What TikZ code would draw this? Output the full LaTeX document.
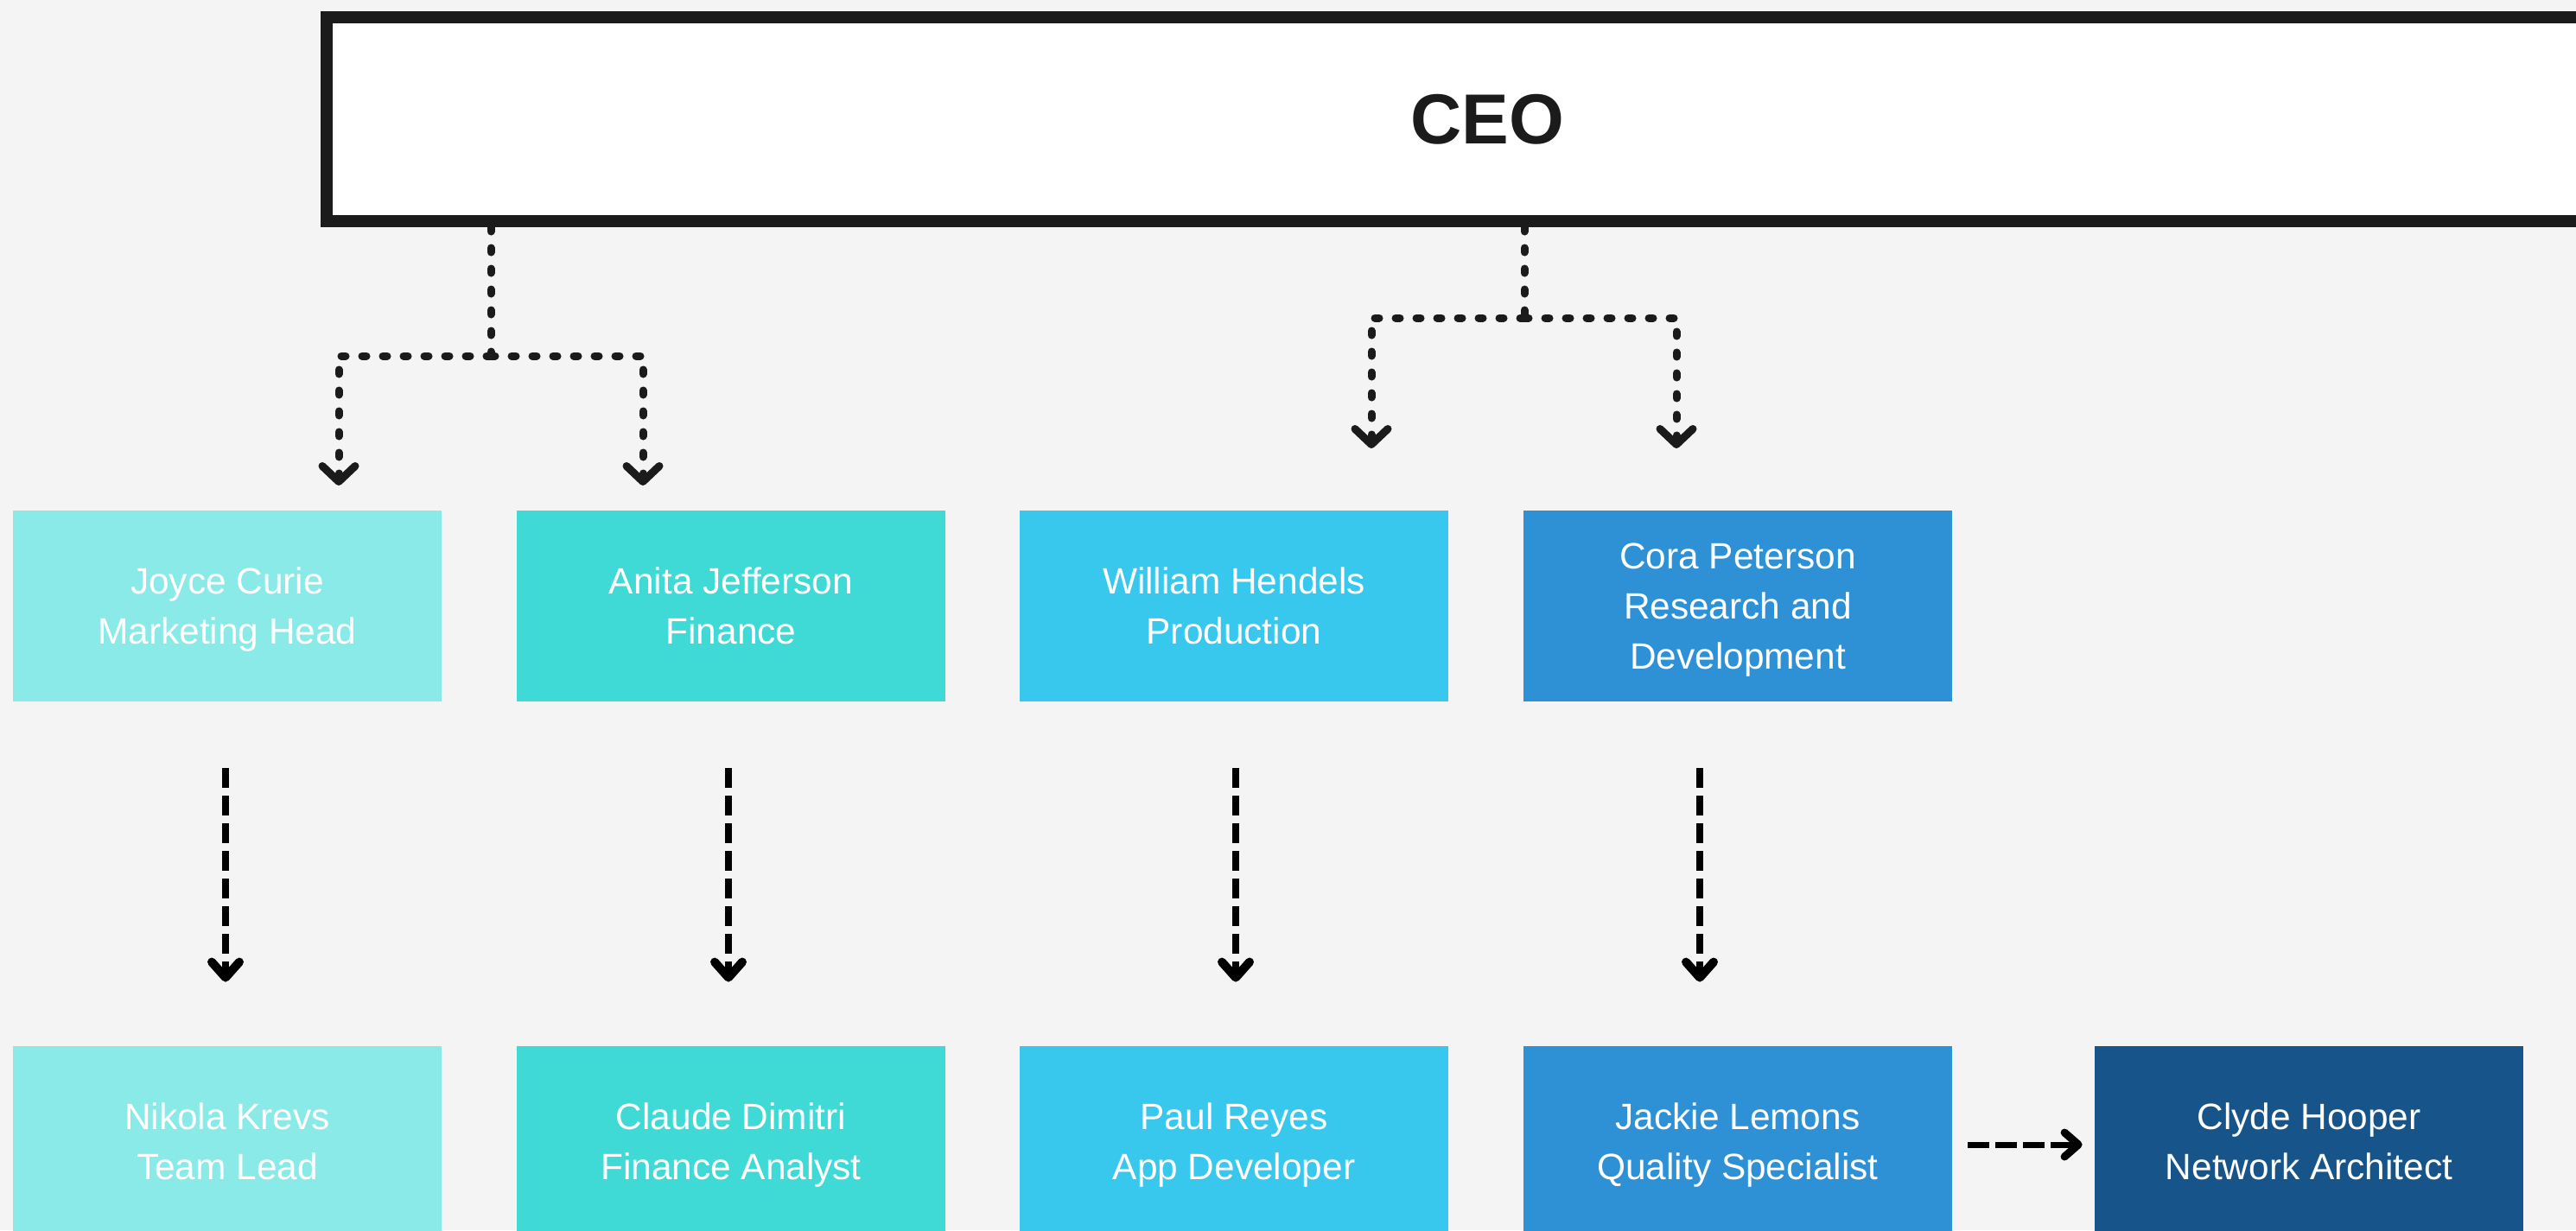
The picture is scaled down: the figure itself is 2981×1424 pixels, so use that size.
\documentclass[tikz,border=0pt]{standalone}
\usepackage{fontspec}
\setmainfont{Liberation Sans}
\usetikzlibrary{arrows.meta,calc}
\definecolor{bgc}{HTML}{F4F4F4}
\definecolor{dark}{HTML}{1B1B1B}
\definecolor{cA}{HTML}{89EAE8}
\definecolor{cB}{HTML}{3FDAD6}
\definecolor{cC}{HTML}{38C8EE}
\definecolor{cD}{HTML}{2E91D5}
\definecolor{cE}{HTML}{16548A}
\newcommand\ostrut{\rule[-7.25pt]{0pt}{29pt}}
\begin{document}
\begin{tikzpicture}[x=0.5pt,y=-0.5pt,
  ceobox/.style={draw=dark,line width=7pt,fill=white,minimum width=1343pt,minimum height=118pt,
    inner sep=0pt,text=dark,font=\fontsize{41}{41}\bfseries\selectfont},
  orgbox/.style={minimum width=248pt,minimum height=110.5pt,inner sep=0pt,text=white,
    align=center,font=\fontsize{21.2}{29}\selectfont},
  dotline/.style={draw=dark,line width=4.5pt,line cap=round,dash pattern=on 2.5pt off 9.5pt},
  dotarrow/.style={-{Straight Barb[length=9pt,width=19pt,line width=4.5pt,round]}},
  dashline/.style={draw=black,line width=4pt,dash pattern=on 11.5pt off 4.5pt,
    -{Straight Barb[length=9pt,width=16pt,line width=5pt,round]}},
  hdashline/.style={draw=black,line width=3.5pt,dash pattern=on 12.5pt off 3.5pt,
    -{Straight Barb[length=8pt,width=14pt,line width=4.5pt,round]}}
]
\useasboundingbox (0,0) rectangle (2981,1424);
\fill[bgc] (0,0) rectangle (2981,1424);

% CEO
\node[ceobox] (ceo) at (1721,138) {CEO};

% second row
\node[orgbox,fill=cA] (joyce)  at (263,701.5)  {\ostrut Joyce Curie\\\ostrut Marketing Head};
\node[orgbox,fill=cB] (anita)  at (846,701.5)  {\ostrut Anita Jefferson\\\ostrut Finance};
\node[orgbox,fill=cC] (will)   at (1428,701.5) {\ostrut William Hendels\\\ostrut Production};
\node[orgbox,fill=cD] (cora)   at (2011,701.5) {\ostrut Cora Peterson\\\ostrut Research and\\\ostrut Development};

% third row
\node[orgbox,fill=cA] (nikola) at (263,1321.5)  {\ostrut Nikola Krevs\\\ostrut Team Lead};
\node[orgbox,fill=cB] (claude) at (846,1321.5)  {\ostrut Claude Dimitri\\\ostrut Finance Analyst};
\node[orgbox,fill=cC] (paul)   at (1428,1321.5) {\ostrut Paul Reyes\\\ostrut App Developer};
\node[orgbox,fill=cD] (jackie) at (2011,1321.5) {\ostrut Jackie Lemons\\\ostrut Quality Specialist};
\node[orgbox,fill=cE] (clyde)  at (2672,1321.5) {\ostrut Clyde Hooper\\\ostrut Network Architect};

% CEO connectors, left group
\coordinate (sL) at (568,412);
\coordinate (tLa) at (392,412);
\coordinate (tLb) at (744,412);
\coordinate (eLa) at (392,562);
\coordinate (eLb) at (744,562);
\draw[dotline] (ceo.south -| sL) -- (sL);
\draw[dotline,dotarrow] (sL) -- (tLa) -- (eLa);
\draw[dotline,dotarrow] (sL) -- (tLb) -- (eLb);

% CEO connectors, right group
\coordinate (sR) at (1764,368);
\coordinate (tRa) at (1587,368);
\coordinate (tRb) at (1940,368);
\coordinate (eRa) at (1587,519);
\coordinate (eRb) at (1940,519);
\draw[dotline] (ceo.south -| sR) -- (sR);
\draw[dotline,dotarrow] (sR) -- (tRa) -- (eRa);
\draw[dotline,dotarrow] (sR) -- (tRb) -- (eRb);

% vertical dashed arrows
\draw[dashline] ($(joyce.south)+(-2,77)$) -- ($(nikola.north)+(-2,-74)$);
\draw[dashline] ($(anita.south)+(-3,77)$) -- ($(claude.north)+(-3,-74)$);
\draw[dashline] ($(will.south)+(2,77)$) -- ($(paul.north)+(2,-74)$);
\draw[dashline] ($(cora.south)+(-44,77)$) -- ($(jackie.north)+(-44,-74)$);

% horizontal dashed arrow
\draw[hdashline] ($(jackie.east)+(18,3.5)$) -- ($(clyde.west)+(-14,3.5)$);
\end{tikzpicture}
\end{document}
